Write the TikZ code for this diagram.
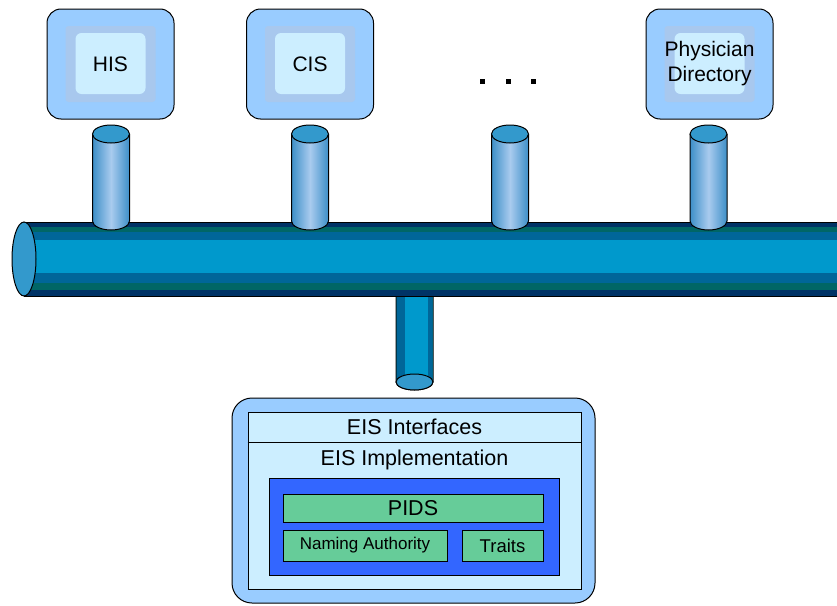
\documentclass[tikz,border=0pt]{standalone}
\usepackage{fontspec}
\setmainfont{Liberation Sans}
\usepackage{xcolor}
\definecolor{eisouter}{HTML}{99CCFF}
\definecolor{eismid}{HTML}{A8C8EE}
\definecolor{eisinner}{HTML}{CCEEFF}
\definecolor{eisblue}{HTML}{3366FF}
\definecolor{eisgreen}{HTML}{66CC99}
\definecolor{pipenavy}{HTML}{003366}
\definecolor{pipeteal}{HTML}{006666}
\definecolor{pipedark}{HTML}{006699}
\definecolor{pipemain}{HTML}{0099CC}
\definecolor{pipecap}{HTML}{3399CC}
\definecolor{stubleft}{HTML}{3D8FC8}
\definecolor{stubmid}{HTML}{A9CBEE}
\usepackage{tikz}
\usetikzlibrary{positioning,calc}

\tikzset{
  monitor/.style={draw,line width=1pt,rounded corners=14pt,fill=eisouter,
    minimum width=127pt,minimum height=110pt},
  label/.style={font=\fontsize{21}{25}\selectfont,align=center,inner sep=0pt},
  box/.style={draw,line width=1pt,inner sep=0pt},
  outline/.style={line width=1pt}
}

\begin{document}
\begin{tikzpicture}[x=1pt,y=-1pt]
\useasboundingbox (0,0) rectangle (837,605);

% down pipe (behind the bus)
\filldraw[outline,fill=pipemain] (396,259) -- (396,382) arc (180:0:18.5 and 8) -- (433,259);
\fill[pipedark] (397,259) rectangle (405,382);
\fill[pipedark] (428,259) rectangle (432,382);
\filldraw[outline,fill=pipecap] (414.5,382) ellipse (18.5 and 8);

% bus
\fill[pipenavy] (24,222) rectangle (837,227);
\fill[pipeteal] (24,227) rectangle (837,232);
\fill[pipedark] (24,232) rectangle (837,240);
\fill[pipemain] (24,240) rectangle (837,273);
\fill[pipedark] (24,273) rectangle (837,283);
\fill[pipeteal] (24,283) rectangle (837,290);
\fill[pipenavy] (24,290) rectangle (837,296);
\draw[outline] (24,222) -- (837,222);
\draw[outline] (24,296) -- (837,296);
\filldraw[outline,fill=pipecap] (24,259) ellipse (12 and 37);

% systems and their stubs
\foreach \name/\x/\txt in {his/110.5/HIS,cis/310/CIS,phys/709.5/{Physician\\Directory}}{
  \node[monitor] (\name) at (\x,64) {};
  \fill[eismid,rounded corners=3pt] ($(\name.center)+(-45,-38)$) rectangle ($(\name.center)+(45,38)$);
  \fill[eisinner,rounded corners=6pt] ($(\name.center)+(-35,-31)$) rectangle ($(\name.center)+(35,30)$);
  \node[label] (\name-txt) at (\name.center) {\txt};
}
\foreach \x in {111,310,510,708.5}{
  \shade[left color=stubleft,right color=stubleft,middle color=stubmid]
    (\x-18.5,134) -- (\x-18.5,221) arc (180:0:18.5 and 9) -- (\x+18.5,134) -- cycle;
  \draw[outline] (\x-18.5,134) -- (\x-18.5,221) arc (180:0:18.5 and 9) -- (\x+18.5,134);
  \filldraw[outline,fill=pipecap] (\x,134) ellipse (18.5 and 9);
}

% more systems
\foreach \x [count=\i] in {482,508,533}
  \fill (\x-2.5,78.5) rectangle (\x+2.5,83.5);

% EIS server
\node[draw,line width=1pt,rounded corners=20pt,fill=eisouter,
  minimum width=363pt,minimum height=205pt] (eis) at (413.5,500.5) {};
\node[box,fill=eisinner,minimum width=333pt,minimum height=177pt] (eisin) at (414.5,500.5) {};
\draw[outline] (eisin.west |- 0,442) -- (eisin.east |- 0,442);
\node[label,font=\fontsize{21.5}{24}\selectfont] (ifc) at (414.5,427) {EIS Interfaces};
\node[label,font=\fontsize{21.5}{24}\selectfont] (impl) at (414.5,460) {EIS Implementation};
\node[box,fill=eisblue,minimum width=290pt,minimum height=97pt] (core) at (414,526.5) {};
\node[box,fill=eisgreen,minimum width=260pt,minimum height=28pt,
  font=\fontsize{21.5}{24}\selectfont] (pids) at (413,508) {PIDS};
\node[box,fill=eisgreen,minimum width=164pt,minimum height=31pt,
  font=\fontsize{17}{20}\selectfont] (naming) at (365,545.5) {Naming Authority};
\node[box,fill=eisgreen,minimum width=81pt,minimum height=31pt,
  font=\fontsize{18.5}{20}\selectfont] (traits) at (502.5,545.5) {Traits};
\end{tikzpicture}
\end{document}
